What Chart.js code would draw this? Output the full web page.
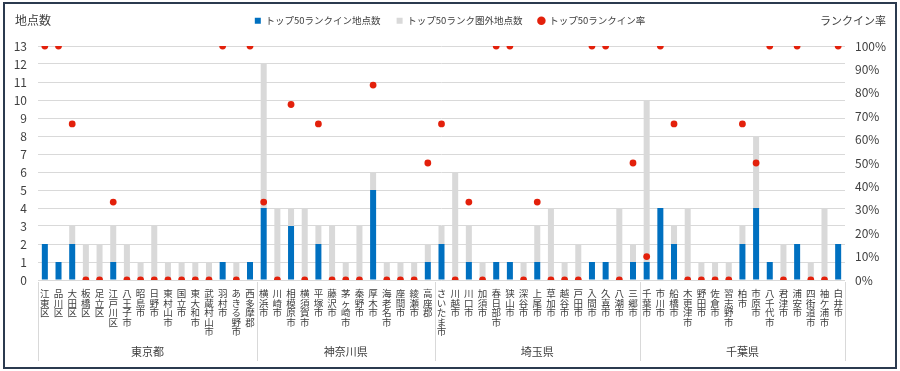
<!DOCTYPE html>
<html>
<head>
<meta charset="utf-8">
<script src="https://cdn.jsdelivr.net/npm/chart.js@4.4.0/dist/chart.umd.min.js"></script>
<style>
  body { margin: 0; background: #fff; }
  #wrap { position: relative; width: 900px; height: 371px; }
  #frame { position: absolute; left: 3px; top: 2px; width: 894px; height: 367px; box-sizing: border-box;
           border: 2px solid #2b3a4f; pointer-events: none; }
</style>
</head>
<body>
<div id="wrap">
  <canvas id="myChart" width="900" height="371"></canvas>
  <div id="frame"></div>
</div>
<script>
// 地域ごとの市区町村
const groups = ["東京都", "神奈川県", "埼玉県", "千葉県"];
const tokyo = ["江東区", "品川区", "大田区", "板橋区", "足立区", "江戸川区", "八王子市", "昭島市", "日野市", "東村山市", "国立市", "東大和市", "武蔵村山市", "羽村市", "あきる野市", "西多摩郡"];
const kanagawa = ["横浜市", "川崎市", "相模原市", "横須賀市", "平塚市", "藤沢市", "茅ヶ崎市", "秦野市", "厚木市", "海老名市", "座間市", "綾瀬市", "高座郡"];
const saitama = ["さいたま市", "川越市", "川口市", "加須市", "春日部市", "狭山市", "深谷市", "上尾市", "草加市", "越谷市", "戸田市", "入間市", "久喜市", "八潮市", "三郷市"];
const chiba = ["千葉市", "市川市", "船橋市", "木更津市", "野田市", "佐倉市", "習志野市", "柏市", "市原市", "八千代市", "君津市", "浦安市", "四街道市", "袖ケ浦市", "白井市"];
const cities = [...tokyo, ...kanagawa, ...saitama, ...chiba];
const groupSizes = [tokyo.length, kanagawa.length, saitama.length, chiba.length];

// トップ50ランクイン地点数
const rankIn = [
  2, 1, 2, 0, 0, 1, 0, 0, 0, 0, 0, 0, 0, 1, 0, 1,
  4, 0, 3, 0, 2, 0, 0, 0, 5, 0, 0, 0, 1,
  2, 0, 1, 0, 1, 1, 0, 1, 0, 0, 0, 1, 1, 0, 1,
  1, 4, 2, 0, 0, 0, 0, 2, 4, 1, 0, 2, 0, 0, 2
];
// トップ50ランク圏外地点数
const rankOut = [
  0, 0, 1, 2, 2, 2, 2, 1, 3, 1, 1, 1, 1, 0, 1, 0,
  8, 4, 1, 4, 1, 3, 1, 3, 1, 1, 1, 1, 1,
  1, 6, 2, 1, 0, 0, 1, 2, 4, 1, 2, 0, 0, 4, 1,
  9, 0, 1, 4, 1, 1, 1, 1, 4, 0, 2, 0, 1, 4, 0
];
// トップ50ランクイン率 (%)
const rankRate = [
  100, 100, 66.7, 0, 0, 33.3, 0, 0, 0, 0, 0, 0, 0, 100, 0, 100,
  33.3, 0, 75, 0, 66.7, 0, 0, 0, 83.3, 0, 0, 0, 50,
  66.7, 0, 33.3, 0, 100, 100, 0, 33.3, 0, 0, 0, 100, 100, 0, 50,
  10, 100, 66.7, 0, 0, 0, 0, 66.7, 50, 100, 0, 100, 0, 0, 100
];

const textColor = "#404040";
const gridColor = "#d9d9d9";
Chart.defaults.font.family = "'Noto Sans CJK JP', 'Noto Sans', sans-serif";
Chart.defaults.color = textColor;

// 縦書きラベル用に一文字ずつ分ける
const verticalLabels = cities.map(c => Array.from(c));

const decorations = {
  id: "decorations",
  beforeInit(chart) {
    const origFit = chart.legend.fit;
    chart.legend.fit = function () {
      origFit.bind(chart.legend)();
      this.height = 46;
    };
  },
  afterDraw(chart) {
    const ctx = chart.ctx;
    const x = chart.scales.x;
    ctx.save();
    // 軸タイトル
    ctx.fillStyle = textColor;
    ctx.font = "12px 'Noto Sans CJK JP'";
    ctx.textBaseline = "middle";
    ctx.textAlign = "left";
    ctx.fillText("地点数", 15, 20);
    ctx.font = "11px 'Noto Sans CJK JP'";
    ctx.textAlign = "right";
    ctx.fillText("ランクイン率", 886, 21);

    // 都県の区切り線とラベル
    const top = chart.chartArea.bottom + 2;
    const bottom = 361;
    ctx.strokeStyle = gridColor;
    ctx.lineWidth = 1;
    let start = 0;
    const edges = [x.left];
    for (let g = 0; g < groupSizes.length; g++) {
      const end = start + groupSizes[g];
      let right = x.right;
      if (end < cities.length) {
        right = (x.getPixelForValue(end - 1) + x.getPixelForValue(end)) / 2;
      }
      edges.push(right);
      const left = edges[g];
      ctx.font = "11px 'Noto Sans CJK JP'";
      ctx.textAlign = "center";
      ctx.fillText(groups[g], (left + right) / 2, 352);
      start = end;
    }
    for (const e of edges) {
      const px = Math.round(e) + 0.5;
      ctx.beginPath();
      ctx.moveTo(px, top);
      ctx.lineTo(px, bottom);
      ctx.stroke();
    }
    ctx.restore();
  }
};

new Chart(document.getElementById("myChart"), {
  data: {
    labels: verticalLabels,
    datasets: [
      {
        type: "bar",
        label: "トップ50ランクイン地点数",
        data: rankIn,
        backgroundColor: "#0070c0",
        pointStyle: "rect",
        yAxisID: "y",
        stack: "s",
        order: 1,
        barPercentage: 0.44,
        categoryPercentage: 1.0
      },
      {
        type: "bar",
        label: "トップ50ランク圏外地点数",
        data: rankOut,
        backgroundColor: "#d9d9d9",
        pointStyle: "rect",
        yAxisID: "y",
        stack: "s",
        order: 1,
        barPercentage: 0.44,
        categoryPercentage: 1.0
      },
      {
        type: "line",
        label: "トップ50ランクイン率",
        data: rankRate,
        yAxisID: "y2",
        showLine: false,
        pointStyle: "circle",
        pointRadius: 3.4,
        pointBorderWidth: 0,
        backgroundColor: "#e3200b",
        borderColor: "#e3200b",
        order: 0
      }
    ]
  },
  options: {
    responsive: false,
    animation: false,
    layout: { padding: { left: 0, right: 0, top: 0, bottom: 0 } },
    plugins: {
      legend: {
        position: "top",
        labels: {
          usePointStyle: true,
          boxWidth: 6,
          boxHeight: 6,
          padding: 16,
          color: textColor,
          font: { size: 9.5 },
          sort: (a, b) => a.datasetIndex - b.datasetIndex
        }
      },
      tooltip: { enabled: false }
    },
    scales: {
      x: {
        stacked: true,
        grid: { display: false, drawTicks: false },
        border: { display: false },
        ticks: {
          autoSkip: false,
          maxRotation: 0,
          minRotation: 0,
          padding: 9,
          color: textColor,
          font: { size: 9.5, lineHeight: 1.0 }
        },
        afterFit(scale) { scale.height = 371 - 280; }
      },
      y: {
        position: "left",
        stacked: true,
        min: 0,
        max: 13,
        grid: { color: gridColor, drawTicks: false },
        border: { display: false },
        ticks: { stepSize: 1, padding: 11, color: textColor, font: { size: 12 } },
        afterFit(scale) { scale.width = 38; }
      },
      y2: {
        position: "right",
        min: 0,
        max: 100,
        grid: { display: false, drawTicks: false },
        border: { display: false },
        ticks: {
          stepSize: 10,
          padding: 10,
          color: textColor,
          font: { size: 12 },
          callback: v => v + "%"
        },
        afterFit(scale) { scale.width = 900 - 845; }
      }
    }
  },
  plugins: [decorations]
});
</script>
</body>
</html>
